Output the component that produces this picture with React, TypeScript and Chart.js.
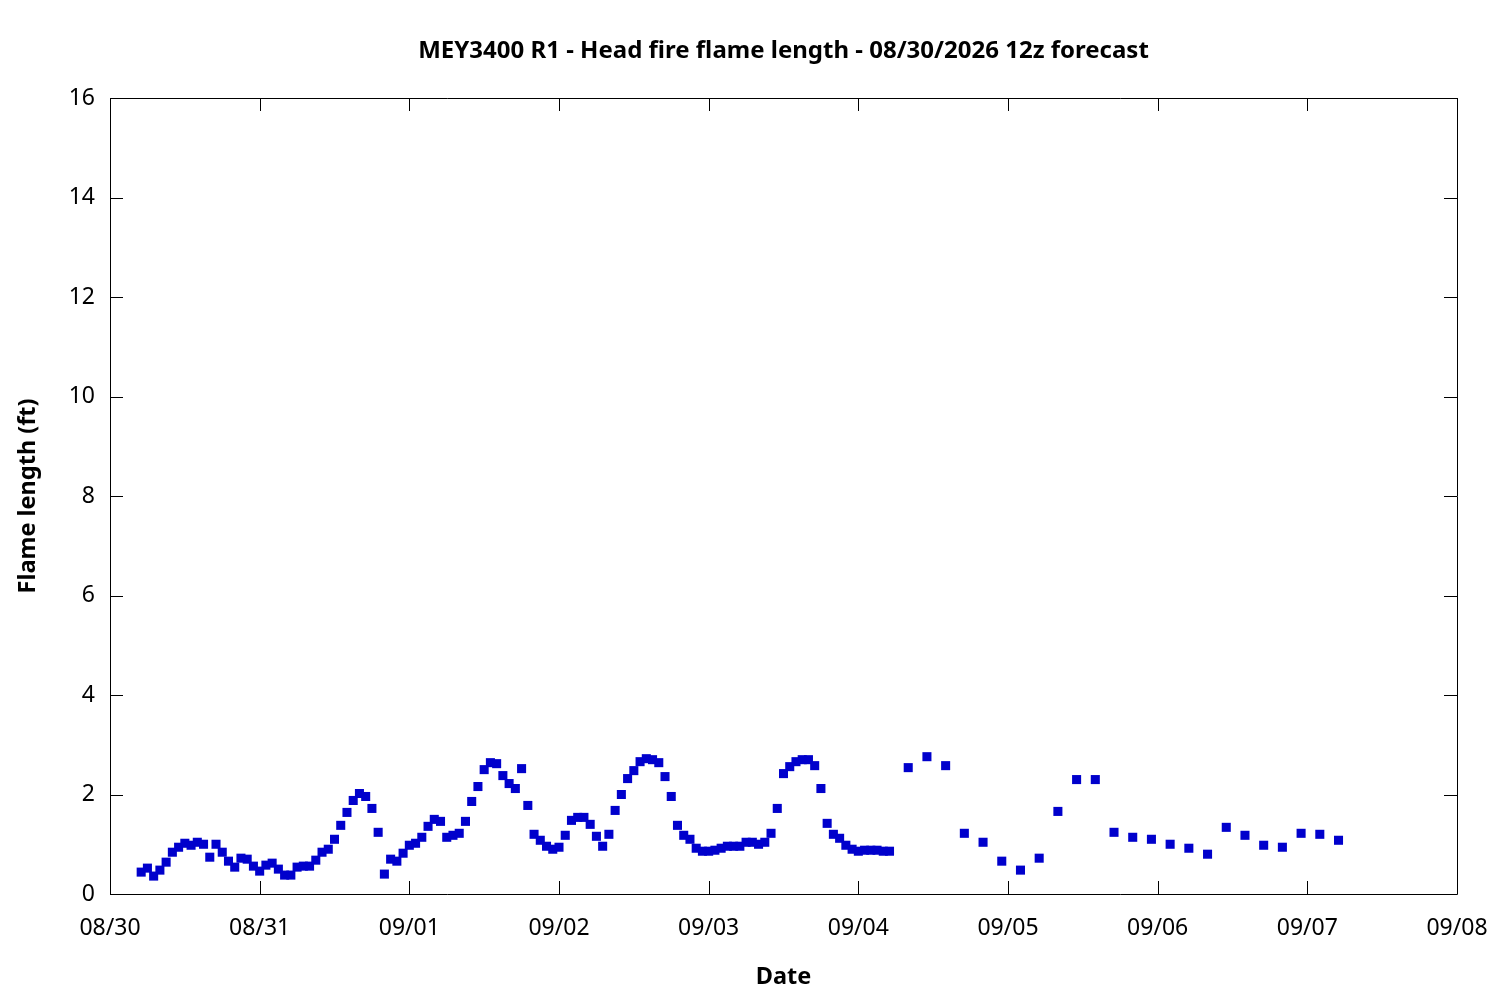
import Chart from 'chart.js/auto';
import { useRef, useEffect } from 'react';

// hours since 08/30 00z
const hourlyStart = 5;
const hourlyValues = [
  0.44, 0.52, 0.36, 0.48, 0.64, 0.84, 0.94, 1.02, 0.98, 1.04, 1.0, 0.74, 1.0, 0.84, 0.66, 0.54, 0.72, 0.70, 0.56,
  0.46, 0.58, 0.62, 0.50, 0.38, 0.38, 0.54, 0.56, 0.56, 0.68, 0.84, 0.90, 1.10, 1.38, 1.64, 1.88, 2.02, 1.96, 1.72,
  1.24, 0.40, 0.70, 0.66, 0.82,
  0.98, 1.02, 1.14, 1.36, 1.50, 1.46, 1.14, 1.18, 1.22, 1.46, 1.86, 2.16, 2.50, 2.64, 2.62, 2.38, 2.22, 2.12, 2.52,
  1.78, 1.20, 1.08, 0.96, 0.90,
  0.94, 1.18, 1.48, 1.54, 1.54, 1.40, 1.16, 0.96, 1.20, 1.68, 2.00, 2.32, 2.48, 2.66, 2.72, 2.70, 2.64, 2.36, 1.96,
  1.38, 1.18, 1.10, 0.92, 0.86,
  0.86, 0.88, 0.92, 0.96, 0.96, 0.96, 1.04, 1.04, 1.0, 1.04, 1.22, 1.72, 2.42, 2.56, 2.66, 2.70, 2.70, 2.58, 2.12,
  1.42, 1.20, 1.12, 0.98, 0.90,
  0.86, 0.88, 0.88, 0.88, 0.86, 0.86,
];

const threeHourlyStart = 128;
const threeHourlyValues = [
  2.54, 2.76, 2.58, 1.22, 1.04, 0.66, 0.48, 0.72, 1.66, 2.30, 2.30, 1.24, 1.14, 1.10, 1.0, 0.92, 0.80, 1.34, 1.18,
  0.98, 0.94, 1.22, 1.20, 1.08,
];

const dateLabels = ['08/30', '08/31', '09/01', '09/02', '09/03', '09/04', '09/05', '09/06', '09/07', '09/08'];

const titleText = 'MEY3400 R1 - Head fire flame length - 08/30/2026 12z forecast';
const xTitle = 'Date';
const yTitle = 'Flame length (ft)';

const FONT = '"Noto Sans", "Open Sans", sans-serif';

const framePlugin = {
  id: 'frame',
  afterDraw(chart: any) {
    const { ctx, chartArea: a, scales } = chart;
    const t = 13;
    ctx.save();
    ctx.strokeStyle = '#000';
    ctx.lineWidth = 1;
    ctx.beginPath();
    ctx.rect(a.left + 0.5, a.top + 0.5, a.right - a.left, a.bottom - a.top);
    for (const tk of scales.y.ticks) {
      const y = Math.round(scales.y.getPixelForValue(tk.value)) + 0.5;
      ctx.moveTo(a.left, y);
      ctx.lineTo(a.left + t, y);
      ctx.moveTo(a.right, y);
      ctx.lineTo(a.right - t, y);
    }
    for (const tk of scales.x.ticks) {
      const x = Math.round(scales.x.getPixelForValue(tk.value)) + 0.5;
      ctx.moveTo(x, a.bottom);
      ctx.lineTo(x, a.bottom - t);
      ctx.moveTo(x, a.top);
      ctx.lineTo(x, a.top + t);
    }
    ctx.stroke();

    ctx.fillStyle = '#000';
    ctx.textAlign = 'center';
    ctx.textBaseline = 'middle';
    const cx = (a.left + a.right) / 2;
    ctx.font = `bold 24px ${FONT}`;
    ctx.fillText(titleText, cx, 51);
    ctx.font = `bold 23.5px ${FONT}`;
    ctx.fillText(xTitle, cx, 977);
    ctx.translate(28, (a.top + a.bottom) / 2);
    ctx.rotate(-Math.PI / 2);
    ctx.fillText(yTitle, 0, 0);
    ctx.restore();
  },
};

const FlameChart = () => {
  const ref = useRef<HTMLCanvasElement>(null);
  const chart = useRef<Chart>();

  useEffect(() => {
    if (ref.current) {
      const points = [
        ...hourlyValues.map((v, i) => ({ x: hourlyStart + i, y: v })),
        ...threeHourlyValues.map((v, i) => ({ x: threeHourlyStart + i * 3, y: v })),
      ];
      chart.current = new Chart(ref.current, {
        type: 'scatter',
        data: {
          datasets: [
            {
              data: points,
              pointStyle: 'rect',
              pointRadius: 6.4,
              pointHoverRadius: 6.4,
              pointBorderWidth: 0,
              backgroundColor: '#0000CC',
              borderColor: '#0000CC',
            },
          ],
        },
        plugins: [framePlugin],
        options: {
          animation: false,
          responsive: false,
          devicePixelRatio: 1,
          layout: { padding: { top: 98, right: 43, left: 0, bottom: 0 } },
          plugins: {
            legend: { display: false },
            tooltip: { enabled: false },
          },
          scales: {
            x: {
              type: 'linear',
              min: 0,
              max: 216,
              afterFit: (s: any) => {
                s.height = 106;
                s.paddingLeft = 0;
                s.paddingRight = 0;
              },
              afterBuildTicks: (s: any) => {
                s.ticks = dateLabels.map((_, i) => ({ value: i * 24 }));
              },
              grid: { display: false, drawTicks: false },
              border: { display: false },
              ticks: {
                padding: 21,
                color: '#000',
                font: { family: FONT, size: 23 },
                maxRotation: 0,
                autoSkip: false,
                callback: (v: any) => dateLabels[Math.round(Number(v) / 24)] ?? '',
              },
            },
            y: {
              min: 0,
              max: 16,
              afterFit: (s: any) => {
                s.width = 110;
                s.paddingTop = 0;
                s.paddingBottom = 0;
              },
              grid: { display: false, drawTicks: false },
              border: { display: false },
              ticks: {
                stepSize: 2,
                padding: 15,
                color: '#000',
                font: { family: FONT, size: 23 },
              },
            },
          },
        },
      });
    }

    return () => {
      if (chart.current) {
        chart.current.destroy();
      }
    };
  }, [ref, chart]);

  return (
    <div style={{ position: 'absolute', left: 0, top: 0, width: 1500, height: 1000, background: '#fff' }}>
      <canvas ref={ref} width={1500} height={1000}></canvas>
    </div>
  );
};

export default function App() {
  return <FlameChart />;
}
